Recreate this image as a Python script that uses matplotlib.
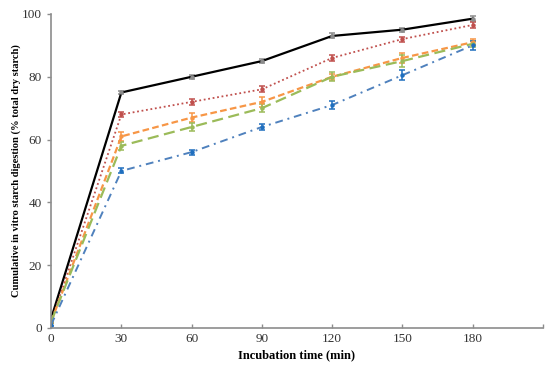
import matplotlib.pyplot as plt

# Data
time_min = [0, 30, 60, 90, 120, 150, 180]

black_vals = [3, 75, 80, 85, 93, 95, 98.5]
red_vals = [2, 68, 72, 76, 86, 92, 96.5]
orange_vals = [2, 61, 67, 72, 80, 86, 91]
green_vals = [2, 58, 64, 70, 80, 85, 90.5]
blue_vals = [1, 50, 56, 64, 71, 80.5, 90]

black_err = [0.3, 0.5, 0.6, 0.6, 0.8, 0.6, 0.8]
red_err = [0.3, 0.8, 1.0, 1.0, 1.0, 0.8, 1.0]
orange_err = [0.3, 1.5, 1.5, 1.5, 1.0, 1.5, 1.0]
green_err = [0.3, 1.2, 1.2, 1.3, 1.5, 1.8, 1.0]
blue_err = [0.5, 0.8, 0.8, 1.0, 1.2, 1.5, 1.5]

x_ticks = [0, 30, 60, 90, 120, 150, 180, 210]
x_tick_labels = ["0", "30", "60", "90", "120", "150", "180", ""]
y_ticks = [0, 20, 40, 60, 80, 100]

plt.rcParams['font.family'] = ['Liberation Serif', 'DejaVu Serif']

fig = plt.figure(figsize=(5.5, 3.68), dpi=100)
ax = fig.add_axes([0.093, 0.109, 0.894, 0.853])

series = [
    (black_vals, black_err, '#000000', '#8c8c8c', '-', 1.6),
    (red_vals, red_err, '#c0504d', '#c0504d', (0, (1, 1.5)), 1.3),
    (orange_vals, orange_err, '#f79646', '#f79646', (0, (3, 1.5)), 1.6),
    (green_vals, green_err, '#9bbb59', '#9bbb59', (0, (5, 2.5)), 1.6),
    (blue_vals, blue_err, '#4f81bd', '#1f6fbf', (0, (4, 2.5, 1, 2.5)), 1.4),
]

for vals, err, color, ecolor, ls, lw in series:
    ax.errorbar(time_min, vals, yerr=err, color=color, ecolor=ecolor,
                linestyle=ls, linewidth=lw, marker='o', markersize=2.2,
                markerfacecolor=ecolor, markeredgecolor=ecolor,
                elinewidth=1.1, capsize=2.5, capthick=1.1)

ax.set_xlim(0, 210)
ax.set_ylim(0, 100)
ax.set_xticks(x_ticks)
ax.set_xticklabels(x_tick_labels)
ax.set_yticks(y_ticks)

for side in ['top', 'right']:
    ax.spines[side].set_visible(False)
for side in ['left', 'bottom']:
    ax.spines[side].set_color('#8c8c8c')
    ax.spines[side].set_linewidth(1.2)
ax.tick_params(axis='both', colors='#8c8c8c', labelcolor='#333333',
               length=3, width=1, labelsize=9.5)
ax.tick_params(axis='y', direction='out')
ax.tick_params(axis='x', direction='in', length=3)

ax.set_xlabel('Incubation time (min)', fontsize=9, fontweight='bold', labelpad=3)
ax.set_ylabel('Cumulative in vitro starch digestion (% total dry starch)',
              fontsize=7.6, fontweight='bold', labelpad=1)

plt.savefig('out.png', dpi=100)
